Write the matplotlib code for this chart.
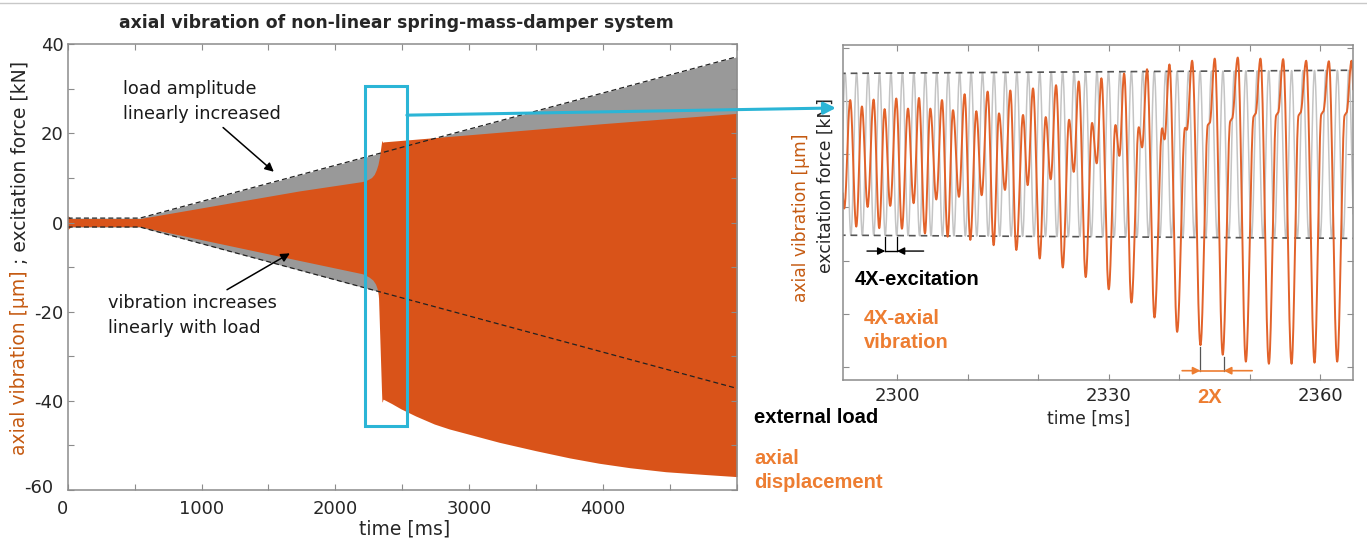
import numpy as np
import matplotlib

matplotlib.use("Agg")
import matplotlib.pyplot as plt
from matplotlib.patches import Rectangle, ConnectionPatch
from matplotlib.lines import Line2D
from matplotlib.transforms import ScaledTranslation

# ---- main plot: envelopes ------------------------------------------------
# excitation force amplitude [kN] (dashed lines / grey band)
load_t = [0, 540, 5000]
load_amp = [1.0, 1.0, 37.2]

# axial vibration envelope [um] (orange band)
vib_up_t = [0, 25, 540, 1731, 2200, 2240, 2270, 2290, 2305, 2318, 2330, 2340,
            2347, 2352, 2360, 3000, 4000, 5000]
vib_up = [1.6, 0.9, 0.9, 7.1, 9.2, 9.6, 10.1, 10.8, 11.8, 13.0, 14.8, 17.0,
          18.5, 18.0, 18.1, 19.7, 22.2, 24.5]
vib_lo_t = [0, 25, 540, 1731, 2204, 2250, 2280, 2300, 2312, 2322, 2347, 2350,
            2356, 2420, 2490, 2600, 2739, 2850, 3000, 3224, 3500, 3750, 3970,
            4200, 4468, 4750, 5000]
vib_lo = [-1.6, -0.9, -0.9, -8.5, -11.5, -12.2, -12.9, -13.8, -14.8, -16.5,
          -40.0, -40.3, -39.6, -40.6, -41.8, -43.4, -45.2, -46.3, -47.5,
          -49.3, -51.2, -52.8, -54.0, -55.0, -55.9, -56.5, -57.0]

main_xticks = [0, 500, 1000, 1500, 2000, 2500, 3000, 3500, 4000, 4500, 5000]
main_xlabels = ["0", "", "1000", "", "2000", "", "3000", "", "4000", "", ""]
main_yticks = [-60, -50, -40, -30, -20, -10, 0, 10, 20, 30, 40]
main_ylabels = ["-60", "", "-40", "", "-20", "", "0", "", "20", "", "40"]

# zoom window marked in the main plot (time, value)
zoom_box_t = [2222, 2534]
zoom_box_v = [-45.6, 30.6]

# ---- inset: extrema of the zoomed signals --------------------------------
# axial vibration peaks / troughs / shoulders (time [ms], value)
vib_zoom_t = [
    2291.65, 2292.47, 2293.32, 2294.18, 2294.98, 2295.79, 2296.64, 2297.44,
    2298.20, 2299.00, 2299.86, 2300.66, 2301.52, 2302.32, 2303.08, 2303.93,
    2304.69, 2305.54, 2306.35, 2307.15, 2307.91, 2308.76, 2309.56, 2310.37,
    2311.22, 2311.98, 2312.83, 2313.68, 2314.44, 2315.29, 2316.05, 2316.90,
    2317.85, 2318.51, 2319.27, 2320.22, 2321.07, 2321.78, 2322.54, 2323.49,
    2324.39, 2325.05, 2325.76, 2326.75, 2327.65, 2328.31, 2328.98, 2330.02,
    2330.97, 2331.53, 2332.20, 2333.24, 2334.28, 2334.75, 2335.46, 2336.51,
    2337.60, 2337.93, 2338.64, 2339.73, 2340.85, 2341.10, 2341.86, 2343.04,
    2344.10, 2344.35, 2345.07, 2346.20, 2347.28, 2347.52, 2348.34, 2349.48,
    2350.60, 2350.85, 2351.56, 2352.75, 2353.80, 2354.05, 2354.78, 2355.97,
    2356.98, 2357.23, 2358.05, 2359.23, 2360.20, 2360.45, 2361.27, 2362.45,
    2363.52, 2363.76, 2364.49, 2365.60,
]
vib_zoom_v = [
    9.0, -10.2, 10.2, -13.6, 9.0, -9.9, 10.3, -13.9,
    8.5, -9.7, 10.5, -14.0, 8.6, -9.2, 10.6, -14.9,
    8.6, -8.5, 10.2, -15.5, 8.3, -8.0, 11.3, -16.1,
    8.1, -7.7, 11.8, -17.1, 7.7, -6.7, 12.0, -18.0,
    7.4, -5.8, 12.4, -19.6, 7.0, -4.7, 13.0, -21.3,
    6.5, -3.3, 13.7, -23.1, 5.9, -1.7, 14.3, -25.4,
    5.5, -0.3, 15.2, -27.9, 5.1, 1.3, 16.0, -30.7,
    4.9, 2.8, 16.9, -33.4, 5.0, 4.6, 17.6, -35.9,
    5.6, 5.9, 18.0, -37.7, 6.3, 6.7, 18.2, -39.0,
    7.2, 7.6, 18.0, -39.4, 7.4, 7.8, 17.9, -39.4,
    7.4, 7.8, 17.6, -39.2, 7.6, 8.0, 17.5, -39.0,
    7.4, 7.8, 17.6, -38.5,
]
# excitation force peak times [ms] (amplitude follows load_amp)
exc_peak_t = [
    2290.98, 2292.60, 2294.23, 2295.85, 2297.48, 2299.10, 2300.73, 2302.35,
    2303.98, 2305.60, 2307.23, 2308.85, 2310.48, 2312.10, 2313.73, 2315.35,
    2316.98, 2318.60, 2320.23, 2321.85, 2323.48, 2325.10, 2326.73, 2328.35,
    2329.98, 2331.60, 2333.23, 2334.85, 2336.48, 2338.10, 2339.73, 2341.35,
    2342.98, 2344.60, 2346.23, 2347.85, 2349.48, 2351.10, 2352.73, 2354.35,
    2355.98, 2357.60, 2359.23, 2360.85, 2362.48, 2364.10, 2365.73,
]
zoom_xticks = [2300, 2310, 2320, 2330, 2340, 2350, 2360]
zoom_xlabels = ["2300", "", "", "2330", "", "", "2360"]
zoom_yticks = [-40, -30, -20, -10, 0, 10, 20]

# period markers in the inset (time [ms])
exc_mark_t = [2298.30, 2299.96]
vib_mark_t = [2343.04, 2346.35]

ORANGE = "#D95319"
ORANGE_TXT = "#ED7D31"
ORANGE_LBL = "#C55A11"
CYAN = "#2BB5D6"
GREY_FILL = "#999999"
AX_GREY = "#8c8c8c"


def cosine_wave(tt, vv, n=20):
    """Smooth curve through extrema: half-cosine between consecutive points."""
    s = np.linspace(0.0, 1.0, n, endpoint=False)
    xs, ys = [], []
    for t0, t1, v0, v1 in zip(tt[:-1], tt[1:], vv[:-1], vv[1:]):
        xs.append(t0 + (t1 - t0) * s)
        ys.append(v0 + (v1 - v0) * (1 - np.cos(np.pi * s)) / 2)
    xs.append([tt[-1]])
    ys.append([vv[-1]])
    return np.concatenate(xs), np.concatenate(ys)


def style_axes(ax, labelsize=13, pad=5):
    for sp in ax.spines.values():
        sp.set_color(AX_GREY)
        sp.set_linewidth(1.1)
    ax.tick_params(direction="in", length=4.5, width=0.8, color=AX_GREY,
                   labelcolor="#262626", labelsize=labelsize, top=True,
                   right=True, pad=pad)


fig = plt.figure(figsize=(13.67, 5.5), dpi=100)
ax = fig.add_axes([0.0495, 0.1091, 0.4896, 0.8104])
axi = fig.add_axes([0.6167, 0.3091, 0.3731, 0.6091])

# ---- main axes -------------------------------------------------------------
t_fine = np.linspace(0, 5000, 2001)
amp = np.interp(t_fine, load_t, load_amp)
ax.fill_between(t_fine, -amp, amp, color=GREY_FILL, lw=0)
ax.fill_between(t_fine, np.interp(t_fine, vib_lo_t, vib_lo),
                np.interp(t_fine, vib_up_t, vib_up), color=ORANGE, lw=0)
for sgn in (1, -1):
    ax.plot(load_t, [sgn * a for a in load_amp], color="#222222", lw=0.9,
            ls=(0, (4, 2.5)))

ax.add_patch(Rectangle((zoom_box_t[0], zoom_box_v[0]),
                       zoom_box_t[1] - zoom_box_t[0],
                       zoom_box_v[1] - zoom_box_v[0],
                       fill=False, ec=CYAN, lw=2.2, zorder=5))

ax.set_xlim(0, 5000)
ax.set_ylim(-60, 40)
ax.set_xticks(main_xticks)
ax.set_xticklabels(main_xlabels)
ax.set_yticks(main_yticks)
ax.set_yticklabels(main_ylabels)
style_axes(ax)
ax.tick_params(axis="x", pad=7)
ax.tick_params(axis="y", pad=3)
ax.set_xlabel("time [ms]", fontsize=13.5, color="#262626")
ax.xaxis.set_label_coords(0.504, -0.066)

# corner labels sit slightly off their ticks in the original
for lab in ax.get_xticklabels():
    if lab.get_text() == "0":
        lab.set_transform(lab.get_transform() +
                          ScaledTranslation(-0.05, 0, fig.dpi_scale_trans))
for lab in ax.get_yticklabels():
    if lab.get_text() == "-60":
        lab.set_transform(lab.get_transform() +
                          ScaledTranslation(-0.10, 0.04, fig.dpi_scale_trans))

ax.annotate("load amplitude\nlinearly increased", xy=(1540, 11.4),
            xytext=(414, 32.0), ha="left", va="top", fontsize=12.8,
            color="#1a1a1a", linespacing=1.5,
            arrowprops=dict(arrowstyle="-|>", color="black", lw=1.1,
                            mutation_scale=13, shrinkA=2, shrinkB=0,
                            relpos=(0.6, 0.0)))
ax.annotate("vibration increases\nlinearly with load", xy=(1660, -6.9),
            xytext=(304, -16.0), ha="left", va="top", fontsize=12.8,
            color="#1a1a1a", linespacing=1.5,
            arrowprops=dict(arrowstyle="-|>", color="black", lw=1.1,
                            mutation_scale=13, shrinkA=2, shrinkB=0,
                            relpos=(0.66, 1.0)))

fig.text(0.2897, 0.9485, "axial vibration of non-linear spring-mass-damper system",
         ha="center", va="baseline", fontsize=12.4, fontweight="bold",
         color="#262626")

# two-colour y label
t1 = fig.text(0.0146, 0.1727, "axial vibration [µm]", rotation=90,
              ha="center", va="bottom", fontsize=13.5, color=ORANGE_LBL)
ax.annotate(" ; excitation force [kN]", xy=(0.5, 1.0), xycoords=t1,
            rotation=90, ha="center", va="bottom", fontsize=13.5,
            color="#262626", annotation_clip=False)

fig.text(0.5516, 0.2304, "external load", ha="left", va="baseline",
         fontsize=14.5, fontweight="bold", family="Liberation Sans",
         color="black")
fig.text(0.5516, 0.1831, "axial\ndisplacement", ha="left", va="top",
         fontsize=14.5, fontweight="bold", family="Liberation Sans",
         color=ORANGE_TXT, linespacing=1.3)

# ---- inset -----------------------------------------------------------------
exc_t, exc_v = [], []
for k, tp in enumerate(exc_peak_t):
    a = np.interp(tp, load_t, load_amp)
    exc_t.append(tp)
    exc_v.append(a)
    if k < len(exc_peak_t) - 1:
        tm = 0.5 * (tp + exc_peak_t[k + 1])
        exc_t.append(tm)
        exc_v.append(-np.interp(tm, load_t, load_amp))
gx, gy = cosine_wave(exc_t, exc_v)
axi.plot(gx, gy, color="#c4c4c4", lw=1.1)
for sgn in (1, -1):
    axi.plot(load_t, [sgn * a for a in load_amp], color="#555555", lw=1.2,
             ls=(0, (4, 3)))
ox, oy = cosine_wave(vib_zoom_t, vib_zoom_v)
axi.plot(ox, oy, color="#E2622A", lw=1.4)

axi.set_xlim(2292.3, 2364.7)
axi.set_ylim(-42.45, 20.56)
axi.set_xticks(zoom_xticks)
axi.set_xticklabels(zoom_xlabels)
axi.set_yticks(zoom_yticks)
axi.set_yticklabels([])
style_axes(axi)
axi.set_xlabel("time [ms]", fontsize=12.3, color="#262626")
axi.xaxis.set_label_coords(0.481, -0.09)

axi.text(-0.083, 0.484, "axial vibration [µm]", transform=axi.transAxes,
         rotation=90, ha="center", va="center", fontsize=12.3,
         color=ORANGE_LBL)
axi.text(-0.033, 0.582, "excitation force [kN]", transform=axi.transAxes,
         rotation=90, ha="center", va="center", fontsize=12.3,
         color="#262626")

# 4X excitation marker
y_exc = -18.2
for tm in exc_mark_t:
    axi.plot([tm, tm], [-15.5, y_exc], color="black", lw=0.9)
axi.annotate("", xy=(exc_mark_t[0], y_exc), xytext=(2295.70, y_exc),
             arrowprops=dict(arrowstyle="-|>", color="black", lw=1.0,
                             mutation_scale=11, shrinkA=0, shrinkB=0))
axi.annotate("", xy=(exc_mark_t[1], y_exc), xytext=(2303.74, y_exc),
             arrowprops=dict(arrowstyle="-|>", color="black", lw=1.0,
                             mutation_scale=11, shrinkA=0, shrinkB=0))
axi.plot(exc_mark_t, [y_exc, y_exc], color="black", lw=1.0)

# 2X vibration marker
y_vib = -40.7
axi.plot([vib_mark_t[0]] * 2, [-36.2, y_vib], color="#555555", lw=0.9)
axi.plot([vib_mark_t[1]] * 2, [-38.1, y_vib], color="#555555", lw=0.9)
axi.plot(vib_mark_t, [y_vib, y_vib], color=ORANGE_TXT, lw=1.2)
axi.annotate("", xy=(vib_mark_t[0], y_vib), xytext=(2340.44, y_vib),
             arrowprops=dict(arrowstyle="-|>", color=ORANGE_TXT, lw=1.2,
                             mutation_scale=11, shrinkA=0, shrinkB=0))
axi.annotate("", xy=(vib_mark_t[1], y_vib), xytext=(2350.38, y_vib),
             arrowprops=dict(arrowstyle="-|>", color=ORANGE_TXT, lw=1.2,
                             mutation_scale=11, shrinkA=0, shrinkB=0),
             annotation_clip=False)

axi.text(2293.93, -24.6, "4X-excitation", ha="left", va="baseline",
         fontsize=14.5, fontweight="bold", family="Liberation Sans",
         color="black")
axi.text(2295.2, -29.1, "4X-axial\nvibration", ha="left", va="top",
         fontsize=14.5, fontweight="bold", family="Liberation Sans",
         color=ORANGE_TXT, linespacing=1.3)
axi.text(2342.57, -46.8, "2X", ha="left", va="baseline", fontsize=14.5,
         fontweight="bold", family="Liberation Sans", color=ORANGE_TXT)

# connector from zoom box to inset
con = ConnectionPatch(xyA=(zoom_box_t[1], 24.1), coordsA=ax.transData,
                      xyB=(-0.014, 0.812), coordsB=axi.transAxes,
                      arrowstyle="-|>", mutation_scale=18, color=CYAN, lw=2.2)
fig.add_artist(con)

fig.add_artist(Line2D([0, 1], [0.995, 0.995], transform=fig.transFigure,
                      color="#c8c8c8", lw=1.0))

fig.savefig("out.png", dpi=100)
